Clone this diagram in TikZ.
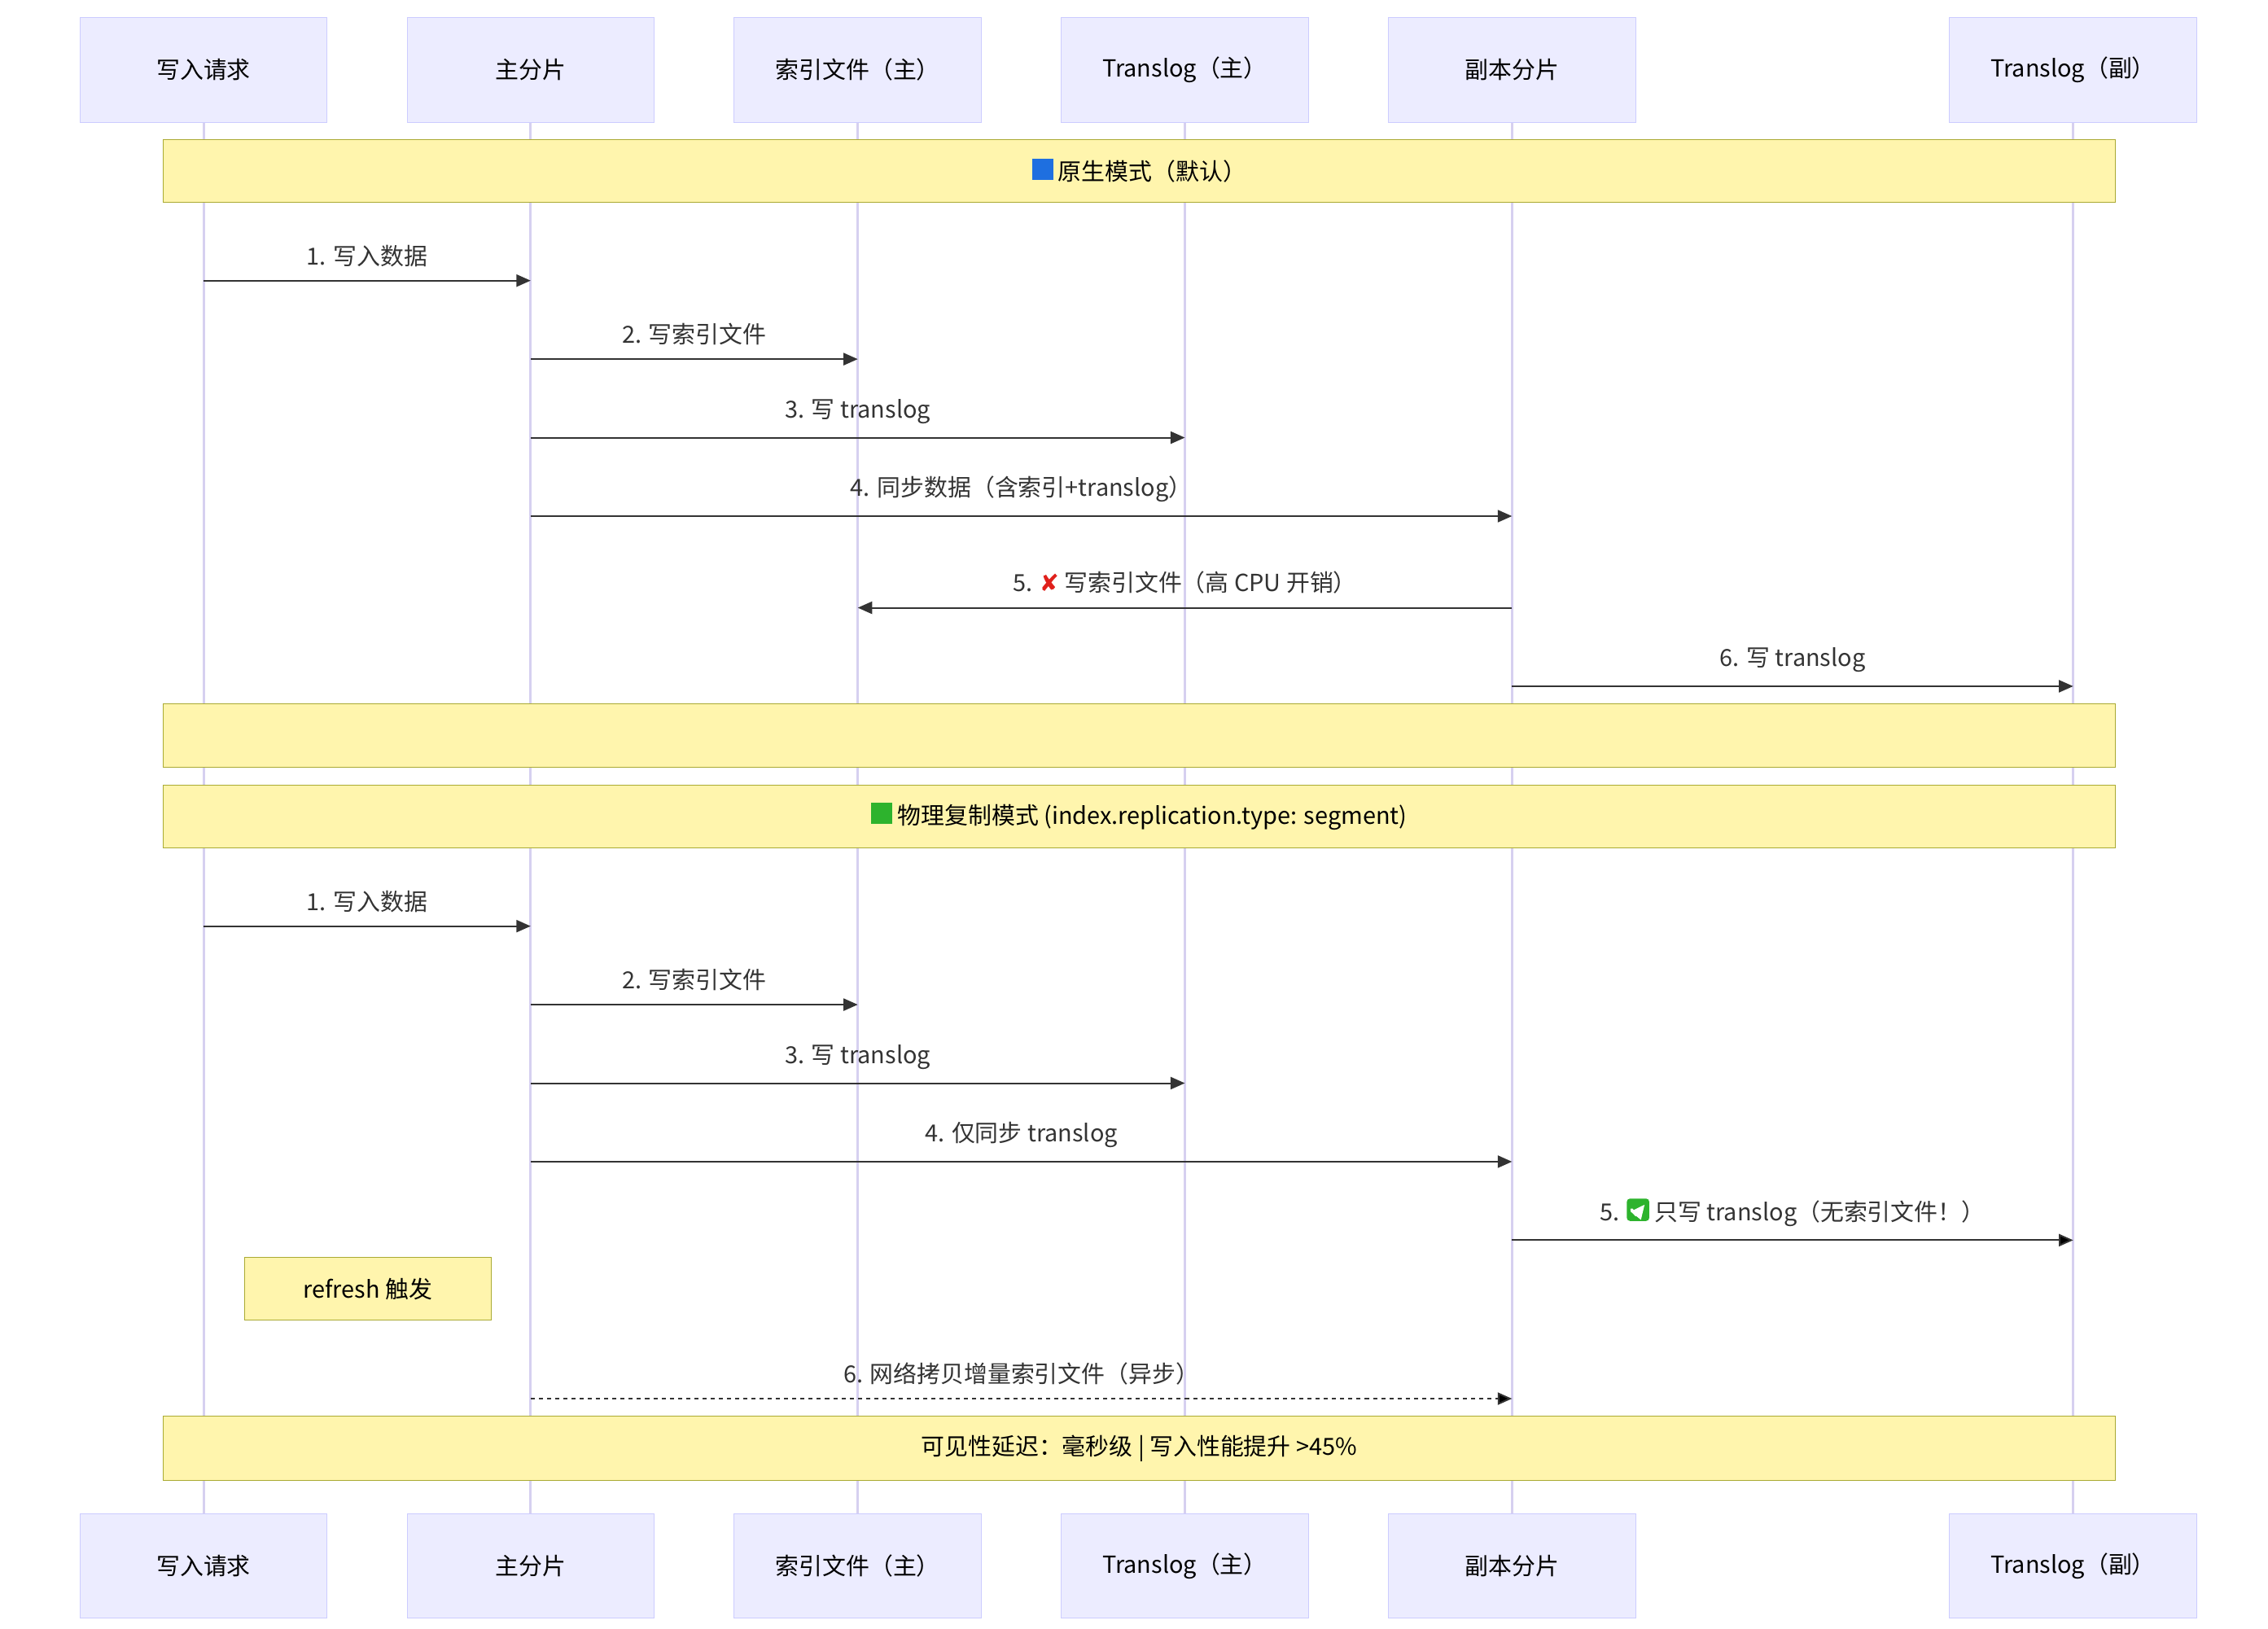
\documentclass[tikz,border=0pt]{standalone}
\usepackage{fontspec}
\setmainfont{Noto Sans CJK SC}
\newfontfamily\symfont{DejaVu Sans}
\usetikzlibrary{arrows.meta,calc}
\definecolor{actfill}{HTML}{ECECFF}
\definecolor{actline}{HTML}{CCCCFF}
\definecolor{lifeline}{HTML}{D6D0F0}
\definecolor{notefill}{HTML}{FFF5AD}
\definecolor{noteline}{HTML}{AAAA33}
\definecolor{msgcol}{HTML}{333333}
\definecolor{okgreen}{HTML}{2DB32D}
\newcommand{\bluesq}{\textcolor[HTML]{1E6FE0}{\rule{0.9em}{0.9em}}}
\newcommand{\greensq}{\textcolor[HTML]{2DB32D}{\rule{0.9em}{0.9em}}}
\newcommand{\redx}{\textcolor[HTML]{E0201B}{\symfont\bfseries ✘}}
\newcommand{\greenok}{\tikz[baseline=0pt,x=1em,y=1em]{\fill[rounded corners=1.5pt,okgreen] (0,0) rectangle (0.95,0.95);\draw[white,line width=1.4pt,line cap=round,line join=round] (0.2,0.48) -- (0.4,0.25) -- (0.76,0.7);}}
\tikzset{
  actor/.style={draw=actline,fill=actfill,minimum width=170*0.025cm,minimum height=72*0.025cm,inner sep=0},
  note/.style={draw=noteline,fill=notefill,minimum height=43*0.025cm,inner sep=0},
  life/.style={draw=lifeline,line width=1.2pt},
  msg/.style={draw=msgcol,line width=0.8pt,-{Triangle[length=7pt,width=6pt]}},
  lbl/.style={text=msgcol,above=3pt}
}
\newcommand{\msgline}[6][]{% style, from, to, y, label, name
  \coordinate (#6s) at (#2 |- 0,#4);
  \coordinate (#6e) at (#3 |- 0,#4);
  \draw[msg,#1] (#6s) -- node[lbl] {#5} (#6e);
}
\begin{document}
\begin{tikzpicture}[x=0.025cm,y=-0.025cm,font=\fontsize{11.5}{14}\selectfont]
\useasboundingbox (0,0) rectangle (1560,1120);
% lifelines
\foreach \n/\x in {1/140,2/365,3/590,4/815,5/1040,6/1426}{
  \coordinate (t\n) at (\x,48);
  \coordinate (b\n) at (\x,1077);
  \draw[life] (t\n) -- (b\n);
}
% actors
\foreach \n/\t in {1/写入请求,2/主分片,3/索引文件（主）,4/Translog（主）,5/副本分片,6/Translog（副）}{
  \node[actor] (top\n) at (t\n) {\t};
  \node[actor] (bot\n) at (b\n) {\t};
}
% notes
\node[note,minimum width=1343*0.025cm] (n1) at (783.5,117.5) {\bluesq\ 原生模式（默认）};
\node[note,minimum width=1343*0.025cm,minimum height=44*0.025cm] (n2) at (783.5,506) {};
\node[note,minimum width=1343*0.025cm] (n3) at (783.5,561.5) {\greensq\ 物理复制模式 (index.replication.type: segment)};
\node[note,minimum width=170*0.025cm] (n4) at (253,886.5) {refresh 触发};
\node[note,minimum width=1343*0.025cm,minimum height=44*0.025cm] (n5) at (783.5,996) {可见性延迟：毫秒级 | 写入性能提升 >45\%};
% native mode
\msgline{t1}{t2}{193}{1. 写入数据}{a1}
\msgline{t2}{t3}{247}{2. 写索引文件}{a2}
\msgline{t2}{t4}{301}{3. 写 translog}{a3}
\msgline{t2}{t5}{355}{4. 同步数据（含索引+translog）}{a4}
\msgline{t5}{t3}{418}{5. \redx\ 写索引文件（高 CPU 开销）}{a5}
\msgline{t5}{t6}{472}{6. 写 translog}{a6}
% segment replication
\msgline{t1}{t2}{637}{1. 写入数据}{c1}
\msgline{t2}{t3}{691}{2. 写索引文件}{c2}
\msgline{t2}{t4}{745}{3. 写 translog}{c3}
\msgline{t2}{t5}{799}{4. 仅同步 translog}{c4}
\msgline{t5}{t6}{853}{5. \greenok\ 只写 translog（无索引文件！）}{c5}
\msgline[dash pattern=on 2pt off 2pt]{t2}{t5}{962}{6. 网络拷贝增量索引文件（异步）}{c6}
\end{tikzpicture}
\end{document}
